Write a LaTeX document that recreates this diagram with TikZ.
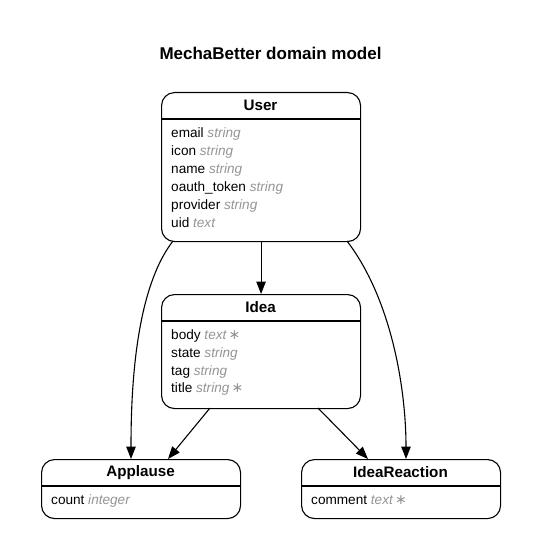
\documentclass[tikz,border=0pt]{standalone}
\usepackage{fontspec}
\setmainfont{Liberation Sans}
\newfontfamily\djv{DejaVu Sans}
\usetikzlibrary{arrows.meta,calc}
\newcommand{\ty}[1]{\textcolor{black!42}{\itshape #1}}
\newcommand{\req}{\textcolor{black!42}{\,\djv\upshape\fontsize{14}{15}\selectfont ∗}}
\begin{document}
\begin{tikzpicture}[x=1pt,y=-1pt,
  entity/.style={draw=black,line width=1.1pt,rounded corners=13pt,anchor=north west,inner sep=0pt},
  hdr/.style={font=\fontsize{15.2}{17}\selectfont\bfseries,anchor=center},
  attr/.style={font=\fontsize{13.6}{15}\selectfont,anchor=base west,inner sep=0pt},
  rel/.style={draw=black,line width=1.1pt,-{Triangle[length=12.5pt,width=9.5pt]}}]
\useasboundingbox (0,0) rectangle (541,559);
\node[font=\fontsize{17}{19}\selectfont\bfseries] (title) at (270.5,53) {MechaBetter domain model};

% User
\node[entity,minimum width=199pt,minimum height=149pt] (user) at (161,92) {};
\draw[line width=1.1pt] (161,119) -- (360,119);
\node[hdr] (userh) at (260.5,105.5) {User};
\node[attr] (u1) at (171,137.5) {email \ty{string}};
\node[attr] (u2) at (171,155.5) {icon \ty{string}};
\node[attr] (u3) at (171,173.5) {name \ty{string}};
\node[attr] (u4) at (171,191.5) {oauth\_token \ty{string}};
\node[attr] (u5) at (171,209.5) {provider \ty{string}};
\node[attr] (u6) at (171,227.5) {uid \ty{text}};

% Idea
\node[entity,minimum width=199pt,minimum height=114pt] (idea) at (161,294) {};
\draw[line width=1.1pt] (161,321) -- (360,321);
\node[hdr] (ideah) at (260.5,307.5) {Idea};
\node[attr] (i1) at (171,339.5) {body \ty{text}\req};
\node[attr] (i2) at (171,357.5) {state \ty{string}};
\node[attr] (i3) at (171,375) {tag \ty{string}};
\node[attr] (i4) at (171,392.5) {title \ty{string}\req};

% Applause
\node[entity,minimum width=199pt,minimum height=59pt] (applause) at (41,459) {};
\draw[line width=1.1pt] (41,486) -- (240,486);
\node[hdr] (applauseh) at (140.5,472.5) {Applause};
\node[attr] (a1) at (51,504.5) {count \ty{integer}};

% IdeaReaction
\node[entity,minimum width=199pt,minimum height=59pt] (reaction) at (301,459) {};
\draw[line width=1.1pt] (301,486) -- (500,486);
\node[hdr] (reactionh) at (400.5,472.5) {IdeaReaction};
\node[attr] (r1) at (311,504.5) {comment \ty{text}\req};

% connectors
\coordinate (uS1) at (173,241);
\coordinate (uS2) at (347,241);
\coordinate (aN1) at (131,459);
\coordinate (aN2) at (168,459);
\coordinate (rN1) at (368,459);
\coordinate (rN2) at (406,459);
\coordinate (iS1) at (210,408);
\coordinate (iS2) at (318,408);
\draw[rel] (user.south) -- (idea.north);
\draw[rel] (uS1) .. controls (135,290) and (131,390) .. (aN1);
\draw[rel] (uS2) .. controls (392,300) and (406,390) .. (rN2);
\draw[rel] (iS1) -- (aN2);
\draw[rel] (iS2) -- (rN1);
\end{tikzpicture}
\end{document}
